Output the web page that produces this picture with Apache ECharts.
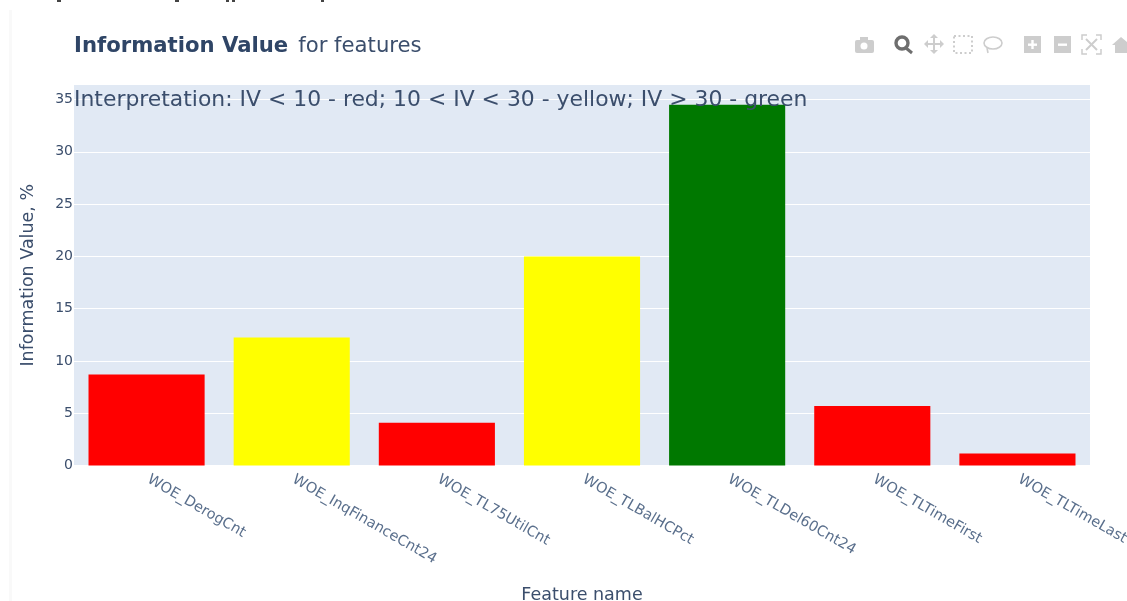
<!DOCTYPE html>
<html>
<head>
<meta charset="utf-8">
<style>
  html, body { margin: 0; padding: 0; background: #fff; }
  #chart { width: 1127px; height: 601px; }
</style>
<script src="https://cdn.jsdelivr.net/npm/echarts@6/dist/echarts.min.js"></script>
</head>
<body>
<div id="chart"></div>
<script>
// Information value per WOE feature, coloured by interpretation band
const features = ['WOE_DerogCnt', 'WOE_InqFinanceCnt24', 'WOE_TL75UtilCnt', 'WOE_TLBalHCPct', 'WOE_TLDel60Cnt24', 'WOE_TLTimeFirst', 'WOE_TLTimeLast'];
const ivValues = [8.7, 12.25, 4.1, 20, 34.5, 5.7, 1.15];
const barColors = ['#ff0000', '#ffff00', '#ff0000', '#ffff00', '#007800', '#ff0000', '#ff0000'];
const axisMax = 36.39;

const FONT = '"DejaVu Sans", Verdana, sans-serif';
const INK = '#3b4e6c';
const ICON = '#cdcdcd';

const chart = echarts.init(document.getElementById('chart'), null, { renderer: 'canvas' });

// Plot toolbar icons, top right of the chart
const toolbar = [
  // camera
  { type: 'rect', shape: { x: 855, y: 40, width: 19, height: 13, r: 2 }, style: { fill: ICON } },
  { type: 'rect', shape: { x: 860, y: 37, width: 8, height: 4 }, style: { fill: ICON } },
  { type: 'circle', shape: { cx: 864, cy: 46, r: 3.5 }, style: { fill: '#fff' } },
  // zoom (active)
  { type: 'circle', shape: { cx: 902, cy: 43, r: 6 }, style: { fill: 'none', stroke: '#6e6e6e', lineWidth: 3.4 } },
  { type: 'line', shape: { x1: 906, y1: 48, x2: 912, y2: 53 }, style: { stroke: '#6e6e6e', lineWidth: 3 } },
  // pan, with arrowheads
  { type: 'line', shape: { x1: 925, y1: 44, x2: 943, y2: 44 }, style: { stroke: ICON, lineWidth: 2 } },
  { type: 'line', shape: { x1: 934, y1: 35, x2: 934, y2: 53 }, style: { stroke: ICON, lineWidth: 2 } },
  { type: 'polygon', shape: { points: [[924, 44], [928, 40], [928, 48]] }, style: { fill: ICON } },
  { type: 'polygon', shape: { points: [[944, 44], [940, 40], [940, 48]] }, style: { fill: ICON } },
  { type: 'polygon', shape: { points: [[934, 34], [930, 38], [938, 38]] }, style: { fill: ICON } },
  { type: 'polygon', shape: { points: [[934, 54], [930, 50], [938, 50]] }, style: { fill: ICON } },
  // box select
  { type: 'rect', shape: { x: 954, y: 36, width: 18, height: 17 }, style: { fill: 'none', stroke: ICON, lineWidth: 2, lineDash: [2, 2.5] } },
  // lasso
  { type: 'ellipse', shape: { cx: 993, cy: 43, rx: 9, ry: 6 }, style: { fill: 'none', stroke: ICON, lineWidth: 1.6 } },
  { type: 'line', shape: { x1: 987, y1: 48, x2: 988, y2: 53 }, style: { stroke: ICON, lineWidth: 1.6 } },
  // zoom in
  { type: 'rect', shape: { x: 1024, y: 36, width: 17, height: 17 }, style: { fill: ICON } },
  { type: 'rect', shape: { x: 1028, y: 43.5, width: 9, height: 2.4 }, style: { fill: '#fff' } },
  { type: 'rect', shape: { x: 1031.3, y: 40, width: 2.4, height: 9 }, style: { fill: '#fff' } },
  // zoom out
  { type: 'rect', shape: { x: 1054, y: 36, width: 17, height: 17 }, style: { fill: ICON } },
  { type: 'rect', shape: { x: 1058, y: 43.5, width: 9, height: 2.4 }, style: { fill: '#fff' } },
  // autoscale
  { type: 'polyline', shape: { points: [[1082, 40], [1082, 35], [1087, 35]] }, style: { fill: 'none', stroke: ICON, lineWidth: 1.5 } },
  { type: 'polyline', shape: { points: [[1096, 35], [1101, 35], [1101, 40]] }, style: { fill: 'none', stroke: ICON, lineWidth: 1.5 } },
  { type: 'polyline', shape: { points: [[1082, 49], [1082, 54], [1087, 54]] }, style: { fill: 'none', stroke: ICON, lineWidth: 1.5 } },
  { type: 'polyline', shape: { points: [[1096, 54], [1101, 54], [1101, 49]] }, style: { fill: 'none', stroke: ICON, lineWidth: 1.5 } },
  { type: 'line', shape: { x1: 1086, y1: 39, x2: 1097, y2: 50 }, style: { stroke: ICON, lineWidth: 2 } },
  { type: 'line', shape: { x1: 1097, y1: 39, x2: 1086, y2: 50 }, style: { stroke: ICON, lineWidth: 2 } },
  // home
  { type: 'polygon', shape: { points: [[1112, 45], [1121, 37], [1127, 42], [1127, 53], [1115, 53], [1115, 45]] }, style: { fill: ICON } }
];

// Page furniture around the plot: left panel edge and the cut-off heading strokes above it
const pageEdge = [
  { type: 'rect', shape: { x: 9, y: 10, width: 3, height: 591 }, style: { fill: '#f9f9f9' }, z: -1 },
  { type: 'rect', shape: { x: 57, y: 0, width: 4, height: 2 }, style: { fill: '#444' } },
  { type: 'rect', shape: { x: 175, y: 0, width: 4, height: 2 }, style: { fill: '#444' } },
  { type: 'rect', shape: { x: 226, y: 0, width: 3, height: 2 }, style: { fill: '#444' } },
  { type: 'rect', shape: { x: 232, y: 0, width: 3, height: 2 }, style: { fill: '#444' } },
  { type: 'rect', shape: { x: 321, y: 0, width: 3, height: 2 }, style: { fill: '#444' } }
];

chart.setOption({
  animation: false,
  backgroundColor: '#ffffff',
  title: {
    left: 74,
    top: 36,
    padding: 0,
    text: '{b|Information Value}  {r|for features}',
    textStyle: {
      fontWeight: 'normal',
      rich: {
        b: { fontFamily: FONT, fontSize: 21.2, fontWeight: 'bold', color: '#2f4566' },
        r: { fontFamily: FONT, fontSize: 21.2, fontWeight: 'normal', color: INK }
      }
    }
  },
  grid: { left: 74, right: 37, top: 85, bottom: 135.5, outerBoundsMode: 'none', show: true, backgroundColor: '#e1e9f4', borderWidth: 0 },
  xAxis: {
    type: 'category',
    data: features,
    name: 'Feature name',
    nameLocation: 'middle',
    nameGap: 121,
    nameTextStyle: { fontFamily: FONT, fontSize: 17.5, color: INK },
    axisLine: { show: false },
    axisTick: { show: false },
    splitLine: { show: false },
    axisLabel: { rotate: -30, interval: 0, margin: 12, padding: [0, 0, 0, 2], hideOverlap: false, fontFamily: FONT, fontSize: 14.5, color: '#5a6f8c' }
  },
  yAxis: {
    type: 'value',
    min: 0,
    max: axisMax,
    interval: 5,
    name: 'Information Value, %',
    nameLocation: 'middle',
    nameGap: 37,
    nameTextStyle: { fontFamily: FONT, fontSize: 17.5, color: INK },
    axisLine: { show: false },
    axisTick: { show: false },
    splitLine: { show: true, showMaxLine: false, lineStyle: { color: '#ffffff', width: 1 } },
    axisLabel: {
      margin: 1,
      fontFamily: FONT, fontSize: 14, color: INK,
      showMaxLabel: false,
      padding: [3, 0, 0, 0]
    }
  },
  series: [{
    type: 'bar',
    barCategoryGap: '20%',
    data: ivValues.map((v, i) => ({ value: v, itemStyle: { color: barColors[i] } }))
  }],
  graphic: [
    ...toolbar,
    ...pageEdge,
    {
      type: 'text', left: 74, top: 89, z: 20,
      style: { text: 'Interpretation: IV < 10 - red; 10 < IV < 30 - yellow; IV > 30 - green', font: '21.9px ' + FONT, fill: INK }
    }
  ]
});
</script>
</body>
</html>
